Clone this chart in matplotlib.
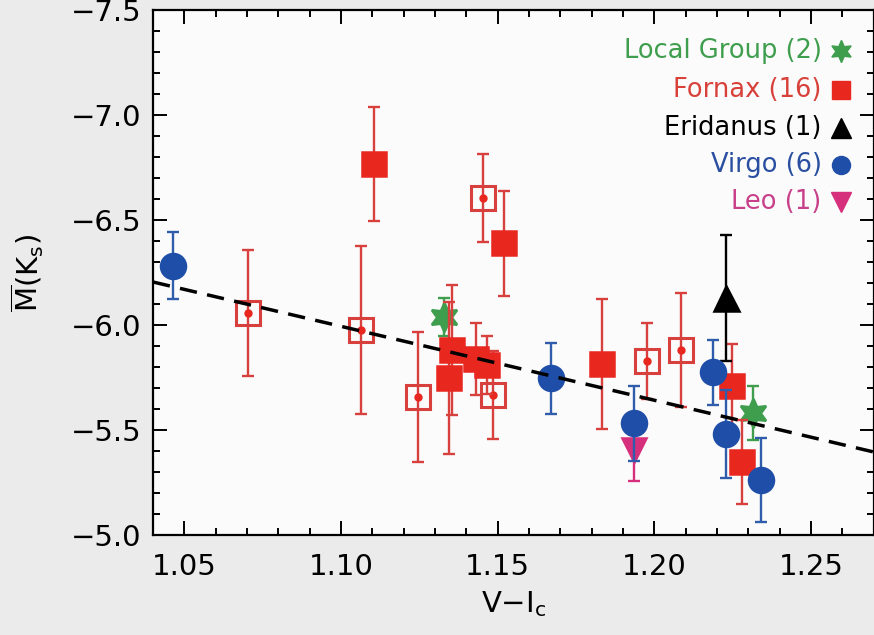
import numpy as np
import matplotlib
matplotlib.use("Agg")
import matplotlib.pyplot as plt
from matplotlib.ticker import MultipleLocator

# ---------------------------
# ------ SAMPLE VALUES ------
# ---------------------------
virgo_vi = [1.0465, 1.1672, 1.1936, 1.2188, 1.2229, 1.2341]
virgo_mk = [-6.283, -5.746, -5.532, -5.776, -5.481, -5.262]
virgo_err = [0.16, 0.17, 0.18, 0.155, 0.21, 0.20]

fornax_vi = [1.1105, 1.1522, 1.1354, 1.1344, 1.1430, 1.1465, 1.1834, 1.2248, 1.2280]
fornax_mk = [-6.767, -6.390, -5.881, -5.748, -5.838, -5.810, -5.814, -5.710, -5.348]
fornax_err = [0.27, 0.25, 0.31, 0.36, 0.17, 0.14, 0.31, 0.20, 0.20]

# Fornax objects drawn as open squares
fornax_open_vi = [1.0704, 1.1064, 1.1245, 1.1484, 1.1452, 1.1978, 1.2086]
fornax_open_mk = [-6.057, -5.976, -5.657, -5.667, -6.605, -5.829, -5.881]
fornax_open_err = [0.30, 0.40, 0.31, 0.21, 0.21, 0.18, 0.27]

local_vi = [1.1328, 1.2315]
local_mk = [-6.038, -5.581]
local_err = [0.09, 0.13]

eridanus_vi = [1.2229]
eridanus_mk = [-6.129]
eridanus_err = [0.30]

leo_vi = [1.1936]
leo_mk = [-5.405]
leo_err = [0.15]

# linear fit  M = a + b (V-I)
fit_a = -9.866
fit_b = 3.52

legend_labels = ["Local Group (2)", "Fornax (16)", "Eridanus (1)", "Virgo (6)", "Leo (1)"]

RED = "#e8271f"
RED_BAR = "#d8403e"
BLUE = "#1f4ea8"
BLUE_BAR = "#2f5cab"
GREEN = "#3f9e4e"
MAGENTA = "#d6307c"

plt.rcParams["font.family"] = ["DejaVu Sans"]
plt.rcParams["mathtext.fontset"] = "custom"
plt.rcParams["mathtext.rm"] = "DejaVu Sans"
plt.rcParams["mathtext.it"] = "DejaVu Sans"

fig = plt.figure(figsize=(8.74, 6.35), dpi=100, facecolor="#ebebeb")
ax = fig.add_axes([0.175, 0.1575, 0.8245, 0.8265], facecolor="#fbfbfb")

bar_kw = dict(fmt="none", capsize=4.5, elinewidth=1.7, capthick=1.7)

def draw_group(x, y, err, color, bar_color, marker, ms, face=None, z=3, mew=1.8):
    ax.errorbar(x, y, yerr=err, ecolor=bar_color, zorder=z, **bar_kw)
    ax.plot(x, y, linestyle="none", marker=marker, ms=ms,
            mfc=color if face is None else face, mec=color,
            mew=mew, zorder=z + 0.5)

# open Fornax squares with a small dot in the middle
draw_group(fornax_open_vi, fornax_open_mk, fornax_open_err, RED_BAR, RED_BAR, "s", 17,
           face="none", mew=2.2)
ax.plot(fornax_open_vi, fornax_open_mk, linestyle="none", marker="o", ms=5,
        color=RED, zorder=4)
draw_group(local_vi, local_mk, local_err, GREEN, GREEN, (6, 1, 0), 21, z=3)
draw_group(fornax_vi, fornax_mk, fornax_err, RED, RED_BAR, "s", 17, z=5)
draw_group(virgo_vi, virgo_mk, virgo_err, BLUE, BLUE_BAR, "o", 18, z=7)
draw_group(eridanus_vi, eridanus_mk, eridanus_err, "black", "black", "^", 18, z=7)
draw_group(leo_vi, leo_mk, leo_err, MAGENTA, MAGENTA, "v", 17, z=6)

xs = np.array([1.04, 1.27])
ax.plot(xs, fit_a + fit_b * xs, color="black", lw=2.5, dashes=(5, 3), zorder=9)

ax.set_xlim(1.04, 1.27)
ax.set_ylim(-5.0, -7.5)
ax.xaxis.set_major_locator(MultipleLocator(0.05))
ax.xaxis.set_minor_locator(MultipleLocator(0.01))
ax.yaxis.set_major_locator(MultipleLocator(0.5))
ax.yaxis.set_minor_locator(MultipleLocator(0.1))
ax.xaxis.set_major_formatter(matplotlib.ticker.FormatStrFormatter("%.2f"))
ax.yaxis.set_major_formatter(matplotlib.ticker.FuncFormatter(lambda v, p: f"{v:.1f}".replace("-", "\u2212")))

ax.tick_params(which="both", direction="in", top=True, right=True, width=1.4, labelsize=21)
ax.tick_params(which="major", length=10)
ax.tick_params(which="minor", length=5)
ax.tick_params(axis="x", pad=13)
ax.tick_params(axis="y", pad=8)
for sp in ax.spines.values():
    sp.set_linewidth(1.6)

ax.set_xlabel(r"V$-$I$_{\rm c}$", fontsize=21, labelpad=6)
ax.set_ylabel(r"$\overline{\rm M}$(K$_{\rm s}$)", fontsize=21, labelpad=18)

# hand-made legend: right-aligned text with the marker to its right
legend_colors = [GREEN, "#d8403a", "black", "#2a4fa0", "#c8408a"]
legend_marks = [((6, 1, 0), GREEN, 16), ("s", RED, 13), ("^", "black", 14),
                ("o", BLUE, 13), ("v", MAGENTA, 14)]
legend_y = [0.922, 0.848, 0.775, 0.705, 0.634]
for label, tc, (mk, mc, ms), yy in zip(legend_labels, legend_colors, legend_marks, legend_y):
    ax.text(0.928, yy, label, transform=ax.transAxes, ha="right", va="center",
            color=tc, fontsize=18.5)
    ax.plot([0.955], [yy], transform=ax.transAxes, marker=mk, ms=ms,
            color=mc, mec=mc, linestyle="none", clip_on=False)

fig.savefig("out.png", dpi=100, facecolor=fig.get_facecolor())
